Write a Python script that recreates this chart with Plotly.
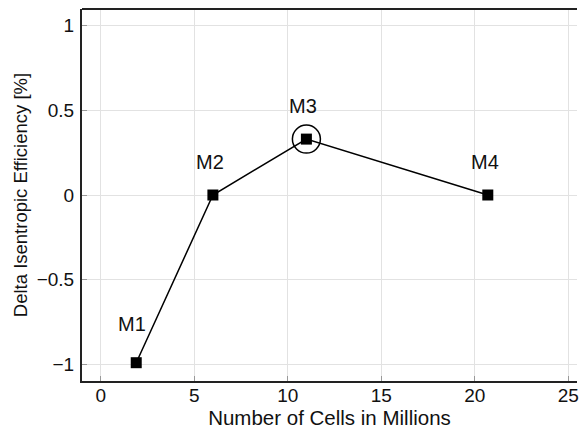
import plotly.graph_objects as go

cells_millions = [1.9, 6.0, 11.0, 20.7]
delta_efficiency = [-0.99, 0.0, 0.33, 0.0]
mesh_labels = ["M1", "M2", "M3", "M4"]
highlight_index = 2
x_ticks = [0, 5, 10, 15, 20, 25]
y_ticks = [-1, -0.5, 0, 0.5, 1]
y_tick_text = ["\u22121", "\u22120.5", "0", "0.5", "1"]

FONT = "Liberation Sans, Arial, Helvetica, sans-serif"

fig = go.Figure()
fig.add_trace(go.Scatter(
    x=cells_millions, y=delta_efficiency, mode="lines+markers",
    line=dict(color="black", width=1.5),
    marker=dict(symbol="square", size=11, color="black"),
    showlegend=False, hoverinfo="skip", cliponaxis=False))
fig.add_trace(go.Scatter(
    x=[cells_millions[highlight_index]], y=[delta_efficiency[highlight_index]],
    mode="markers",
    marker=dict(symbol="circle-open", size=28, color="black", line=dict(width=1.5)),
    showlegend=False, hoverinfo="skip"))

for i, (xv, yv, lab) in enumerate(zip(cells_millions, delta_efficiency, mesh_labels)):
    fig.add_annotation(x=xv, y=yv, text=lab, showarrow=False,
                       xshift=-4 if i == 0 else -3, yshift=39 if i == 0 else 33,
                       font=dict(family=FONT, size=20, color="#111"))

fig.add_shape(type="line", xref="paper", yref="paper", x0=0, x1=1, y0=1, y1=1,
              line=dict(color="#222", width=2))

fig.update_layout(
    width=579, height=429,
    margin=dict(l=82, r=0, t=9, b=48),
    paper_bgcolor="white", plot_bgcolor="white",
    font=dict(family=FONT, size=19, color="#111"),
    xaxis=dict(range=[-1.0, 25.47], tickvals=x_ticks, showgrid=True,
               gridcolor="#e2e2e2", gridwidth=1, zeroline=False,
               showline=True, linecolor="#222", linewidth=2,
               ticks="inside", ticklen=5, tickcolor="#999", tickwidth=1,
               ticklabeloverflow="allow", ticklabelstandoff=-4,
               title=dict(text="Number of Cells in Millions", font=dict(size=20.5), standoff=6)),
    yaxis=dict(range=[-1.098, 1.098], tickvals=y_ticks, ticktext=y_tick_text,
               showgrid=True, gridcolor="#e2e2e2", gridwidth=1, zeroline=False,
               showline=True, linecolor="#222", linewidth=2,
               ticks="inside", ticklen=5, tickcolor="#999", tickwidth=1,
               ticklabelstandoff=2,
               title=dict(text="Delta Isentropic Efficiency [%]", font=dict(size=18.5), standoff=4)),
)

fig.write_html("out.html")
